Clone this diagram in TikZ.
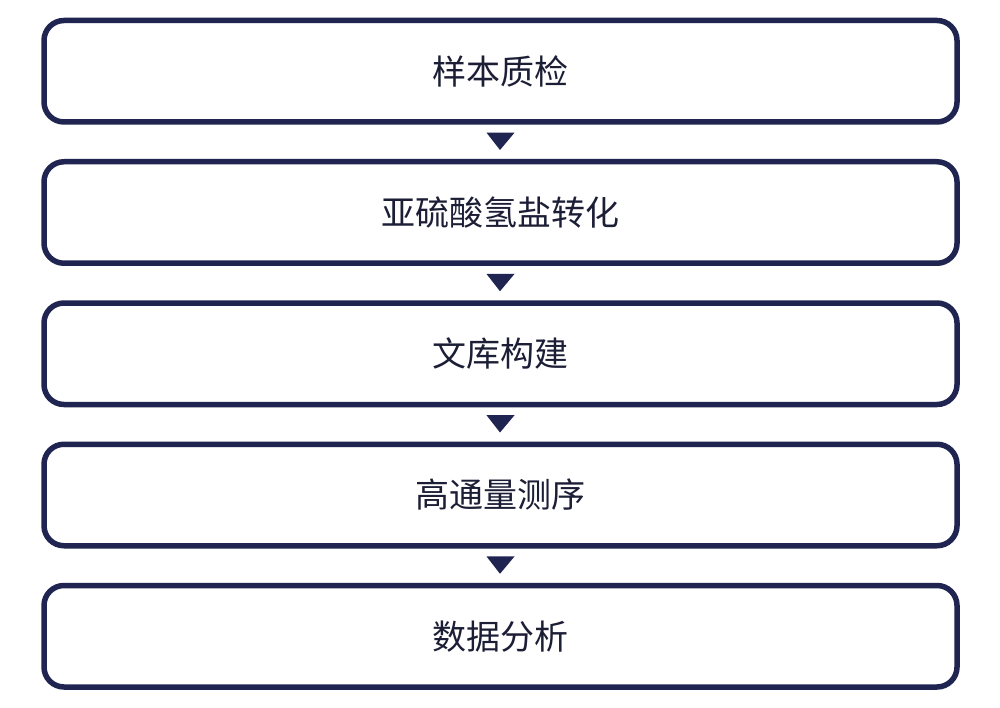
\documentclass[tikz,border=0pt]{standalone}
\usepackage{fontspec}
\setmainfont{Noto Sans CJK SC}
\usetikzlibrary{calc}
\definecolor{navy}{HTML}{1F2550}
\definecolor{txt}{HTML}{1C1E36}
\begin{document}
\begin{tikzpicture}[x=1pt,y=-1pt,
  stepbox/.style={draw=navy,line width=5.5pt,rounded corners=20pt,fill=white,
    minimum width=913pt,minimum height=101.5pt,inner sep=0pt,outer sep=0pt,
    font=\fontsize{34}{40}\selectfont,text=txt},
  tri/.style={fill=navy}]
\useasboundingbox (0,0) rectangle (1000,708);
\node[stepbox] (b1) at (500.5,71.25) {样本质检};
\node[stepbox] (b2) at (500.5,212.5) {亚硫酸氢盐转化};
\node[stepbox] (b3) at (500.5,353.75) {文库构建};
\node[stepbox] (b4) at (500.5,495) {高通量测序};
\node[stepbox] (b5) at (500.5,636.25) {数据分析};
\foreach \a/\b in {b1/b2,b2/b3,b3/b4,b4/b5}{
  \fill[tri] ($(\a.south)+(-14,10.7)$) -- ++(28,0) -- ($(\a.south)+(-0.5,28)$) -- cycle;
}
\end{tikzpicture}
\end{document}
